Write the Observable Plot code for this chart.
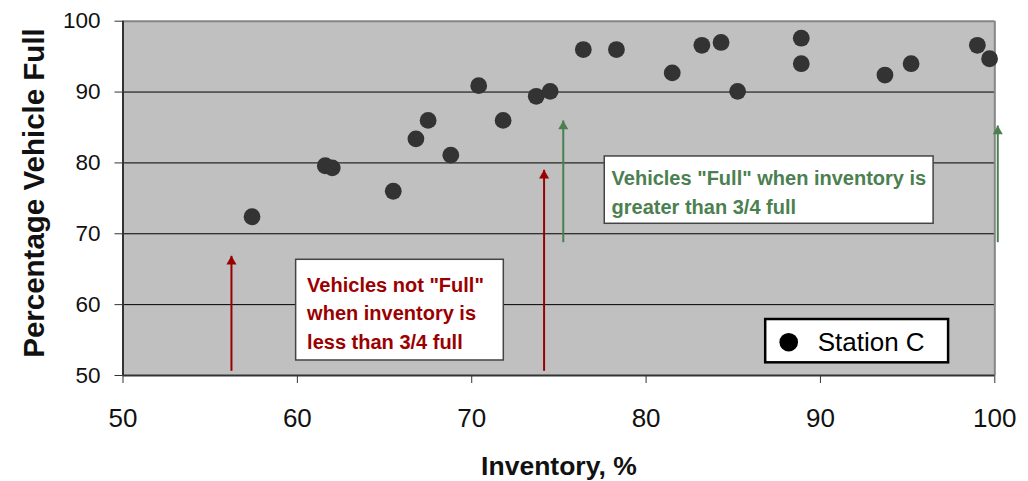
<!DOCTYPE html>
<html>
<head>
<meta charset="utf-8">
<script src="https://cdn.jsdelivr.net/npm/d3@7"></script>
<script src="https://cdn.jsdelivr.net/npm/@observablehq/plot@0.6"></script>
<style>
  html, body { margin: 0; padding: 0; background: #fff; }
  #chart svg { display: block; }
</style>
</head>
<body>
<div id="chart"></div>
<script>
// Series: Station C
const inventory    = [57.4, 61.6, 62.0, 65.5, 66.8, 67.5, 68.8, 70.4, 71.8, 73.7, 74.5, 76.4, 78.3, 81.5, 83.2, 84.3, 85.25, 88.9, 88.9, 93.7, 95.2, 99.0, 99.7];
const vehicleFull  = [72.4, 79.6, 79.3, 76.0, 83.4, 86.0, 81.1, 90.9, 86.0, 89.4, 90.1, 96.0, 96.0, 92.7, 96.6, 97.0, 90.1, 97.6, 94.0, 92.4, 94.0, 96.6, 94.7];
const seriesName = "Station C";

// Axis ticks
const xTicks = [50, 60, 70, 80, 90, 100];
const yTicks = [50, 60, 70, 80, 90, 100];
const gridY = [60, 70, 80, 90];

// Annotation arrows (data units)
const arrowX    = [56.22, 74.15, 75.25, 100.17];
const arrowFrom = [50.66, 50.66, 68.81, 68.81];
const arrowTo   = [66.89, 79.03, 85.99, 85.28];
const arrowKind = ["not", "not", "full", "full"];

// Annotation boxes (data units)
const boxKind = ["not", "full", "legend"];
const boxX1 = [59.93, 77.63, 86.86];
const boxX2 = [71.84, 96.49, 97.35];
const boxY1 = [52.12, 71.41, 51.79];
const boxY2 = [66.33, 80.91, 57.90];

const noteText = ["Vehicles not \"Full\"\nwhen inventory is\nless than 3/4 full", "Vehicles \"Full\" when inventory is\ngreater than 3/4 full"];
const noteX = [60.56, 78.02];
const noteY = [64.71, 79.76];
const noteKind = ["not", "full"];

const legendX = [88.18];
const legendTextX = [89.84];
const legendY = [54.70];

const red = "#9b0000";
const green = "#4b8050";
const colorOf = k => k === "not" ? red : green;

const points = inventory.map((x, i) => ({x, y: vehicleFull[i]}));
const arrows = arrowX.map((x, i) => ({x, y1: arrowFrom[i], y2: arrowTo[i], c: colorOf(arrowKind[i])}));
const boxes = boxKind.map((k, i) => ({k, x1: boxX1[i], x2: boxX2[i], y1: boxY1[i], y2: boxY2[i]}));
const notes = noteText.map((t, i) => ({t, x: noteX[i], y: noteY[i], c: colorOf(noteKind[i])}));

const FONT = "'Liberation Sans', Arial, Helvetica, sans-serif";

// triangle head geometry
const headHalf = 2.9;
const headR = Math.sqrt(headHalf * headHalf * 3 * Math.sqrt(3) / Math.PI);

const chart = Plot.plot({
  width: 1028,
  height: 481,
  marginLeft: 122.5,
  marginRight: 33.7,
  marginTop: 20.7,
  marginBottom: 106,
  style: {fontFamily: FONT, background: "#fff", overflow: "visible"},
  x: {domain: [50, 100]},
  y: {domain: [50, 100]},
  marks: [
    Plot.frame({fill: "#c0c0c0", stroke: "none"}),
    Plot.ruleY(gridY, {stroke: "#000", strokeWidth: 1}),
    Plot.ruleY([100], {stroke: "#858585", strokeWidth: 2}),
    Plot.ruleX([100], {stroke: "#858585", strokeWidth: 2}),
    Plot.ruleX([50], {stroke: "#333", strokeWidth: 2}),
    Plot.ruleY([50], {stroke: "#333", strokeWidth: 2}),
    Plot.axisX({ticks: xTicks, tickSize: 8, tickPadding: 25.2, fontSize: 26, stroke: "#333", fill: "#111", label: null}),
    Plot.axisY({ticks: yTicks, tickSize: 8, tickPadding: 14.5, fontSize: 22.5, stroke: "#333", fill: "#111", label: null}),
    Plot.text(["Inventory, %"], {frameAnchor: "bottom", dy: 91.5, textAnchor: "middle", lineAnchor: "middle", fontSize: 26.5, fontWeight: "bold", fill: "#111"}),
    Plot.text(["Percentage Vehicle Full"], {frameAnchor: "left", rotate: -90, dx: -88.5, dy: -5.35, textAnchor: "middle", lineAnchor: "middle", fontSize: 29.5, fontWeight: "bold", fill: "#111"}),
    Plot.dot(points, {x: "x", y: "y", r: 8.4, fill: "#333", stroke: "none"}),
    Plot.link(arrows, {x1: "x", x2: "x", y1: "y1", y2: "y2", stroke: d => d.c, strokeWidth: 2}),
    Plot.dot(arrows, {x: "x", y: "y2", symbol: "triangle", r: headR, fill: d => d.c, stroke: "none", dy: 2 * headHalf}),
    Plot.rect(boxes, {x1: "x1", x2: "x2", y1: "y1", y2: "y2", fill: "#fff", stroke: d => d.k === "legend" ? "#000" : "#444", strokeWidth: d => d.k === "legend" ? 2.5 : 1.5}),
    Plot.text(notes, {x: "x", y: "y", text: "t", fill: d => d.c, textAnchor: "start", lineAnchor: "top", fontSize: 20, fontWeight: "bold", lineHeight: 1.44}),
    Plot.dot(legendX, {x: d => d, y: () => legendY[0], r: 9.3, fill: "#000", stroke: "none"}),
    Plot.text([seriesName], {x: () => legendTextX[0], y: () => legendY[0], textAnchor: "start", lineAnchor: "middle", fontSize: 26, fill: "#000"})
  ]
});
document.getElementById("chart").appendChild(chart);
</script>
</body>
</html>
